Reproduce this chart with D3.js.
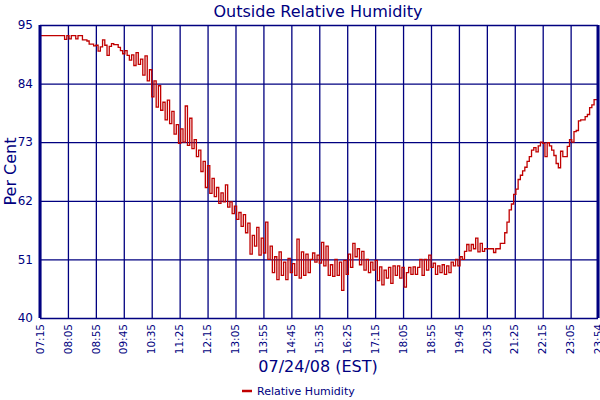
<!DOCTYPE html>
<html><head><meta charset="utf-8">
<script src="https://cdn.jsdelivr.net/npm/d3@7"></script>
<style>body{margin:0;background:#fff}svg{display:block}</style>
</head><body>
<svg id="c" width="600" height="400"></svg>
<script>
// Data: relative humidity sampled every 4 minutes from 07:15 (minute 0) on 07/24/08
const stepMinutes = 4;
const humidity = [
93,93,93,93,93,93,93,93,93,93,
93,92.3,93,92.4,93,93,92.4,93,93,92.2,
92.2,92.0,91.4,91.4,91.1,91.2,90.1,90.9,92.2,91.2,
89.3,91.0,91.5,91.3,91.3,90.8,90.2,89.6,90.2,89.3,
88.4,89.4,87.4,89.8,87.6,88.6,85.6,89.2,84.5,86.6,
81.5,84.5,79.6,83.6,79.0,80.5,77.2,80.9,76.5,78.8,
74.5,76.3,72.8,75.5,73.0,79.8,72.4,77.5,71.8,73.5,
70.3,71.5,67.5,69.4,64.5,68.6,63.4,66.2,62.8,64.5,
61.5,63.5,61.8,65.0,60.8,61.8,59.6,61.0,58.5,59.8,
57.2,59.4,56.0,57.8,52.0,55.5,53.5,57.0,51.8,55.0,
52.2,58.0,51.0,53.5,48.5,51.5,47.2,52.4,48.0,50.5,
47.2,51.2,48.5,50.2,48.0,54.8,47.5,52.4,48.0,52.0,
48.5,51.0,52.2,50.5,51.8,50.3,54.2,49.8,53.5,48.0,
50.0,47.8,51.0,48.0,50.5,45.2,50.8,48.2,52.0,49.5,
54.0,51.5,53.0,50.0,52.5,49.0,51.0,48.5,50.5,49.0,
50.8,47.0,49.6,46.2,49.0,47.5,49.5,46.5,49.8,48.0,
49.8,47.5,49.5,45.8,48.5,49.5,48.2,49.6,48.2,49.5,
51.0,48.0,51.0,49.0,51.8,49.5,50.3,48.2,49.8,48.5,
50.0,48.2,49.8,48.5,50.5,49.8,51.0,49.8,51.5,51.0,
52.5,53.8,52.6,53.8,53.0,55.0,52.4,54.0,52.5,53.0,
53,53,53,52.3,53,53,54,54,56.0,58.0,
60.3,61.4,63.2,64.2,66.0,66.8,67.6,68.3,69.4,70.3,
71.5,72.0,71.2,72.3,73.0,72.8,70.3,72.9,72.3,71.5,
70.5,69.0,68.2,71.3,70.3,70.3,72.2,73.5,73.0,75.0,
75.2,77.0,77.2,77.2,77.8,78.2,79.5,80.0,81.0,81.0,
80.4
];
const totalMinutes = 999;
const xTickMinutes = [0,50,100,150,200,250,300,350,400,450,500,550,600,650,700,750,800,850,900,950,999];
const xTickLabels = ["07:15","08:05","08:55","09:45","10:35","11:25","12:15","13:05","13:55","14:45","15:35","16:25","17:15","18:05","18:55","19:45","20:35","21:25","22:15","23:05","23:54"];
const yTicks = [40,51,62,73,84,95];

const navy = "#000080", red = "#c00000";
const font = "Verdana, 'DejaVu Sans', sans-serif";
const L = 40, R = 598, T = 25, B = 318;
const svg = d3.select("#c");

const x = d3.scaleLinear().domain([0, totalMinutes]).range([L, R]);
const y = d3.scaleLinear().domain([40, 95]).range([B, T]);

// grid
svg.append("g").attr("transform", `translate(0,${B})`)
  .call(d3.axisBottom(x).tickValues(xTickMinutes).tickSize(-(B - T)).tickFormat(""))
  .call(g => g.select(".domain").remove())
  .call(g => g.selectAll("line").attr("stroke", navy).attr("stroke-width", 1.3));
svg.append("g").attr("transform", `translate(${L},0)`)
  .call(d3.axisLeft(y).tickValues(yTicks).tickSize(-(R - L)).tickFormat(""))
  .call(g => g.select(".domain").remove())
  .call(g => g.selectAll("line").attr("stroke", navy).attr("stroke-width", 1.3));

// series
const pts = humidity.map((v, i) => ({t: Math.min(i * stepMinutes, totalMinutes), v}));
svg.append("defs").append("clipPath").attr("id", "clip")
  .append("rect").attr("x", L).attr("y", T).attr("width", R - L).attr("height", B - T);
svg.append("path").datum(pts)
  .attr("clip-path", "url(#clip)")
  .attr("fill", "none").attr("stroke", red).attr("stroke-width", 1.3)
  .attr("d", d3.line().x(d => x(d.t)).y(d => y(d.v)).curve(d3.curveStepAfter));

// left & right thick borders
svg.append("line").attr("x1", L).attr("x2", L).attr("y1", T).attr("y2", B).attr("stroke", navy).attr("stroke-width", 3);
svg.append("line").attr("x1", R).attr("x2", R).attr("y1", T).attr("y2", B).attr("stroke", navy).attr("stroke-width", 3);

// y tick labels
svg.append("g").selectAll("text").data(yTicks).join("text")
  .attr("x", 33).attr("y", d => y(d)).attr("dy", "0.35em")
  .attr("text-anchor", "end").attr("fill", navy)
  .style("font-family", font).style("font-size", "12px").text(d => d);

// x tick labels (rotated)
svg.append("g").selectAll("text").data(xTickMinutes).join("text")
  .attr("transform", d => `translate(${x(d)},${B + 6}) rotate(-90)`)
  .attr("dy", "0.35em").attr("text-anchor", "end").attr("fill", navy)
  .style("font-family", font).style("font-size", "10.5px")
  .text((d, i) => xTickLabels[i]);

// titles
svg.append("text").attr("x", 318).attr("y", 17).attr("text-anchor", "middle").attr("fill", navy)
  .style("font-family", font).style("font-size", "16px").text("Outside Relative Humidity");
svg.append("text").attr("x", 318).attr("y", 372).attr("text-anchor", "middle").attr("fill", navy)
  .style("font-family", font).style("font-size", "16px").text("07/24/08 (EST)");
svg.append("text").attr("transform", `translate(16,${(T + B) / 2}) rotate(-90)`)
  .attr("text-anchor", "middle").attr("fill", navy)
  .style("font-family", font).style("font-size", "16px").text("Per Cent");

// legend
svg.append("line").attr("x1", 242).attr("x2", 252).attr("y1", 391).attr("y2", 391).attr("stroke", red).attr("stroke-width", 2.5);
svg.append("text").attr("x", 257).attr("y", 395).attr("fill", navy)
  .style("font-family", font).style("font-size", "11px").text("Relative Humidity");
</script>
</body></html>
